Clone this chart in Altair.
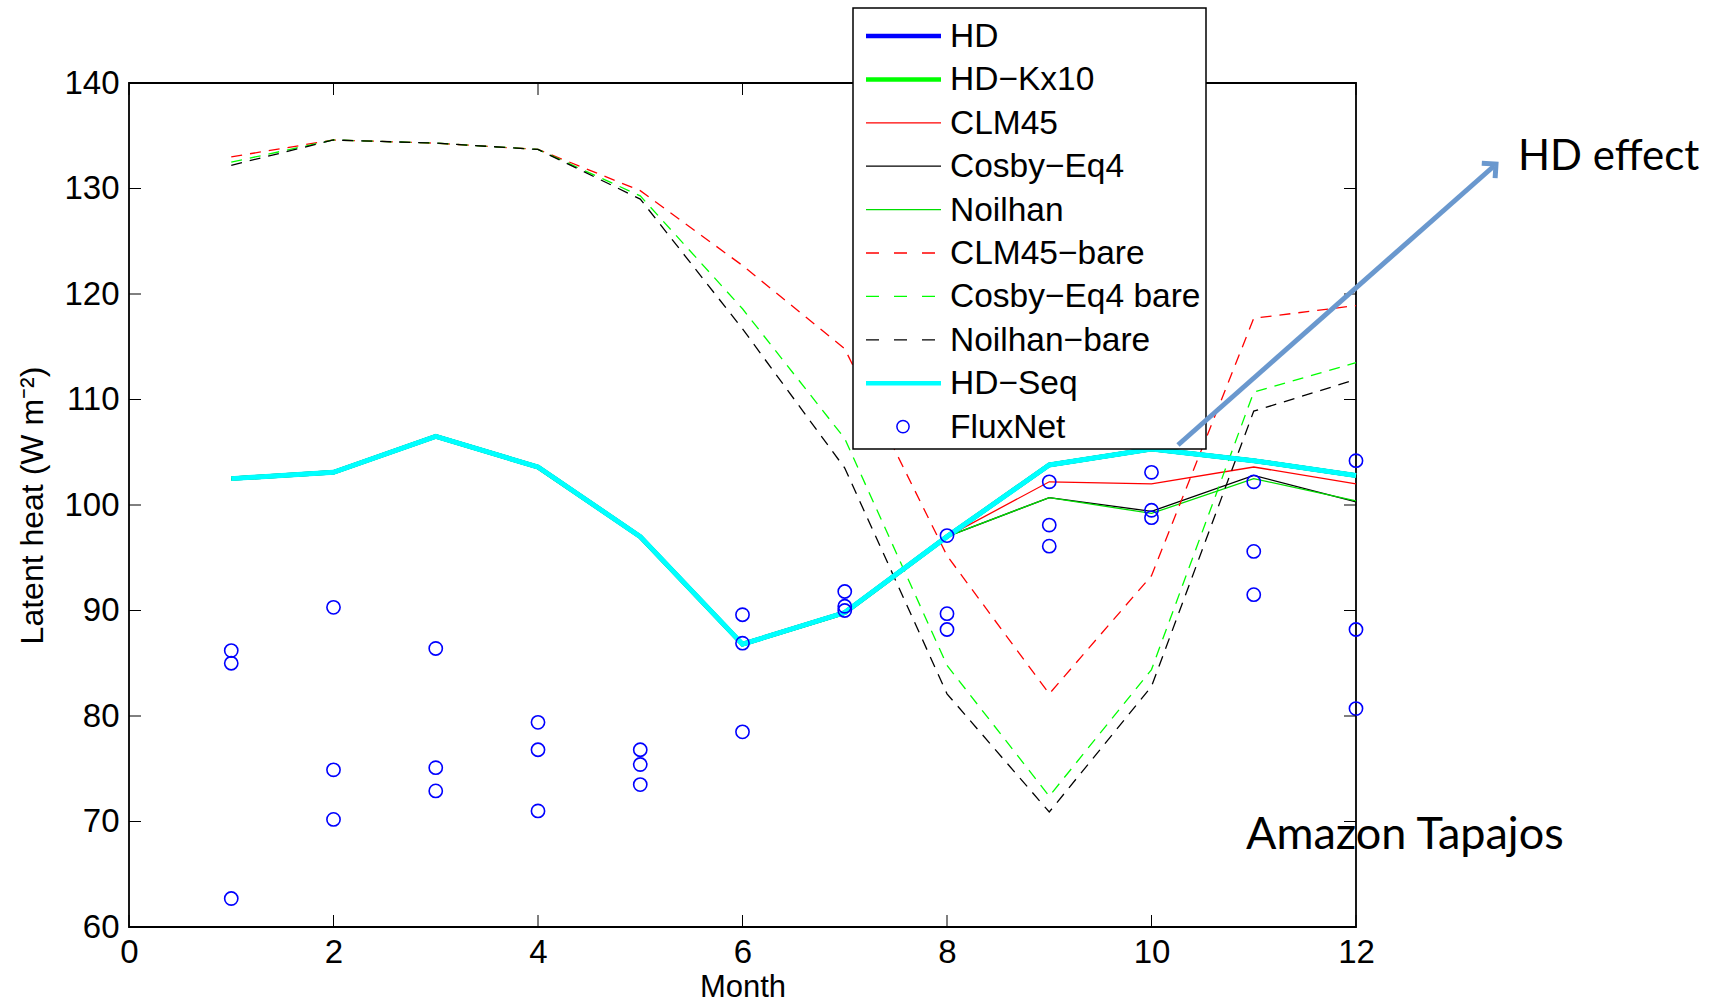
import altair as alt
import pandas as pd

# ---------------- data ----------------
months = [1, 2, 3, 4, 5, 6, 7, 8, 9, 10, 11, 12]
hd = [102.5, 103.1, 106.5, 103.6, 97.0, 86.8, 89.8, 97.0, 103.8, 105.3, 104.2, 102.8]
hd_kx10 = [102.5, 103.1, 106.5, 103.6, 97.0, 86.8, 89.8, 97.0, 103.8, 105.3, 104.2, 102.8]
clm45 = [102.5, 103.1, 106.5, 103.6, 97.0, 86.8, 89.8, 97.0, 102.2, 102.0, 103.6, 102.0]
cosby_eq4 = [102.5, 103.1, 106.5, 103.6, 97.0, 86.8, 89.8, 97.0, 100.7, 99.4, 102.8, 100.3]
noilhan = [102.5, 103.1, 106.5, 103.6, 97.0, 86.8, 89.8, 97.0, 100.7, 99.2, 102.5, 100.4]
clm45_bare = [133.0, 134.6, 134.3, 133.7, 129.8, 122.7, 114.8, 95.2, 82.1, 93.3, 117.7, 118.9]
cosby_eq4_bare = [132.5, 134.6, 134.3, 133.7, 129.3, 118.6, 106.3, 84.8, 72.4, 84.4, 110.7, 113.5]
noilhan_bare = [132.2, 134.6, 134.3, 133.7, 129.0, 116.7, 103.5, 82.1, 70.9, 82.8, 108.9, 111.9]
hd_seq = [102.5, 103.1, 106.5, 103.6, 97.0, 86.8, 89.8, 97.0, 103.8, 105.3, 104.2, 102.8]

flux_month = [1, 1, 1, 2, 2, 2, 3, 3, 3, 4, 4, 4, 5, 5, 5, 6, 6, 6,
              7, 7, 7, 8, 8, 8, 9, 9, 9, 10, 10, 10, 11, 11, 11, 12, 12, 12]
flux_value = [86.2, 85.0, 62.7, 90.3, 74.9, 70.2, 86.4, 75.1, 72.9, 79.4, 76.8, 71.0,
              76.8, 75.4, 73.5, 89.6, 86.9, 78.5, 91.8, 90.4, 90.0, 97.1, 89.7, 88.2,
              102.2, 98.1, 96.1, 103.1, 99.5, 98.8, 102.2, 95.6, 91.5, 104.2, 88.2, 80.7]

x_ticks = [0, 2, 4, 6, 8, 10, 12]
y_ticks = [60, 70, 80, 90, 100, 110, 120, 130, 140]

series_names = ["HD", "HD\u2212Kx10", "CLM45", "Cosby\u2212Eq4", "Noilhan",
                "CLM45\u2212bare", "Cosby\u2212Eq4 bare", "Noilhan\u2212bare", "HD\u2212Seq"]
series_values = [hd, hd_kx10, clm45, cosby_eq4, noilhan,
                 clm45_bare, cosby_eq4_bare, noilhan_bare, hd_seq]
series_colors = ["#0000FF", "#00FF00", "#FF0000", "#000000", "#00DD00",
                 "#FF0000", "#00FF00", "#000000", "#00FFFF"]
series_widths = [4.5, 4.5, 1.3, 1.3, 1.3, 1.3, 1.3, 1.3, 5]
series_dashed = [False, False, False, False, False, True, True, True, False]

# ---------------- layout ----------------
W, H = 1227, 844
PAD = {"left": 129, "top": 83, "right": 1719 - 129 - W, "bottom": 1004 - 83 - H}
FONT = "Liberation Sans"
DASH = [11, 8]

xscale = alt.Scale(domain=[0, 12], nice=False, zero=False)
yscale = alt.Scale(domain=[60, 140], nice=False, zero=False)
xaxis = alt.Axis(values=x_ticks, title="Month", grid=False, domain=False, ticks=False,
                 labelFont=FONT, labelFontSize=33, labelColor="black", labelPadding=9,
                 titleFont=FONT, titleFontSize=31, titleFontWeight="normal", titleColor="black",
                 titlePadding=3, labelFlush=False)
yaxis = alt.Axis(values=y_ticks, title="Latent heat (W m\u207b\u00b2)", grid=False, domain=False,
                 ticks=False, labelFont=FONT, labelFontSize=33, labelColor="black",
                 labelPadding=10, titleFont=FONT, titleFontSize=32, titleFontWeight="normal",
                 titleColor="black", titlePadding=14, labelFlush=False)


def X(field="month"):
    return alt.X(f"{field}:Q", scale=xscale, axis=xaxis)


def Y(field="value"):
    return alt.Y(f"{field}:Q", scale=yscale, axis=yaxis)


layers = []

# model lines
for name, vals, col, wid, dashed in zip(series_names, series_values, series_colors,
                                        series_widths, series_dashed):
    df = pd.DataFrame({"month": months, "value": vals})
    kw = dict(color=col, strokeWidth=wid, clip=False)
    if dashed:
        kw["strokeDash"] = DASH
    layers.append(alt.Chart(df).mark_line(**kw).encode(x=X(), y=Y()))

# FluxNet points
flux_df = pd.DataFrame({"month": flux_month, "value": flux_value})
layers.append(alt.Chart(flux_df).mark_point(shape="circle", filled=False, color="#0000FF",
                                            size=175, strokeWidth=1.6, opacity=1)
              .encode(x=X(), y=Y()))

# inward ticks
xt = pd.DataFrame({"month": x_ticks})
yt = pd.DataFrame({"value": y_ticks})
TL = 12
layers.append(alt.Chart(xt).mark_rule(color="black", strokeWidth=1)
              .encode(x=X(), y=alt.value(H), y2=alt.value(H - TL)))
layers.append(alt.Chart(xt).mark_rule(color="black", strokeWidth=1)
              .encode(x=X(), y=alt.value(0), y2=alt.value(TL)))
layers.append(alt.Chart(yt).mark_rule(color="black", strokeWidth=1)
              .encode(y=Y(), x=alt.value(0), x2=alt.value(TL)))
layers.append(alt.Chart(yt).mark_rule(color="black", strokeWidth=1)
              .encode(y=Y(), x=alt.value(W), x2=alt.value(W - TL)))

# ---------------- legend ----------------
one = pd.DataFrame({"k": [0]})
LX0, LX1, LY0, LY1 = 724, 1077, -75, 366
layers.append(alt.Chart(one).mark_rect(fill="white", stroke="black", strokeWidth=1.5)
              .encode(x=alt.value(LX0), x2=alt.value(LX1), y=alt.value(LY0), y2=alt.value(LY1)))

legend_labels = series_names + ["FluxNet"]
row0, step = -47, 43.4
for i, lab in enumerate(legend_labels):
    yy = row0 + i * step
    if i < len(series_names):
        kw = dict(color=series_colors[i], strokeWidth=min(series_widths[i], 4.5))
        if series_dashed[i]:
            kw["strokeDash"] = [13, 15]
        layers.append(alt.Chart(one).mark_rule(**kw)
                      .encode(x=alt.value(737), x2=alt.value(812), y=alt.value(yy)))
    else:
        layers.append(alt.Chart(one).mark_point(shape="circle", filled=False, color="#0000FF",
                                                size=150, strokeWidth=1.5, opacity=1)
                      .encode(x=alt.value(774), y=alt.value(yy)))
    layers.append(alt.Chart(pd.DataFrame({"label": [lab]}))
                  .mark_text(font=FONT, fontSize=33.5, align="left", baseline="middle",
                             color="black")
                  .encode(text="label:N", x=alt.value(821), y=alt.value(yy + 1)))

# ---------------- annotations ----------------
ARROW = "#6A98CE"
layers.append(alt.Chart(one).mark_rule(color=ARROW, strokeWidth=5)
              .encode(x=alt.value(1049), y=alt.value(362), x2=alt.value(1365), y2=alt.value(83)))
layers.append(alt.Chart(one).mark_point(shape="M -0.9 0.9 L 0 0 L 0.9 0.9", filled=False,
                                        color=ARROW, strokeWidth=5, size=500, angle=48.5,
                                        opacity=1)
              .encode(x=alt.value(1367), y=alt.value(81)))
layers.append(alt.Chart(pd.DataFrame({"label": ["HD effect"]}))
              .mark_text(font="Lato", fontSize=42, align="left", baseline="middle", color="black")
              .encode(text="label:N", x=alt.value(1389), y=alt.value(74)))
layers.append(alt.Chart(pd.DataFrame({"label": ["Amazon Tapajos"]}))
              .mark_text(font="Lato", fontSize=45, align="left", baseline="middle", color="black")
              .encode(text="label:N", x=alt.value(1117), y=alt.value(752)))

chart = alt.layer(*layers).properties(
    width=W, height=H, padding=PAD, autosize="none", background="white"
).configure_view(stroke="black", strokeWidth=1.8)

chart.save("out.html", embed_options={"renderer": "svg", "actions": False})
